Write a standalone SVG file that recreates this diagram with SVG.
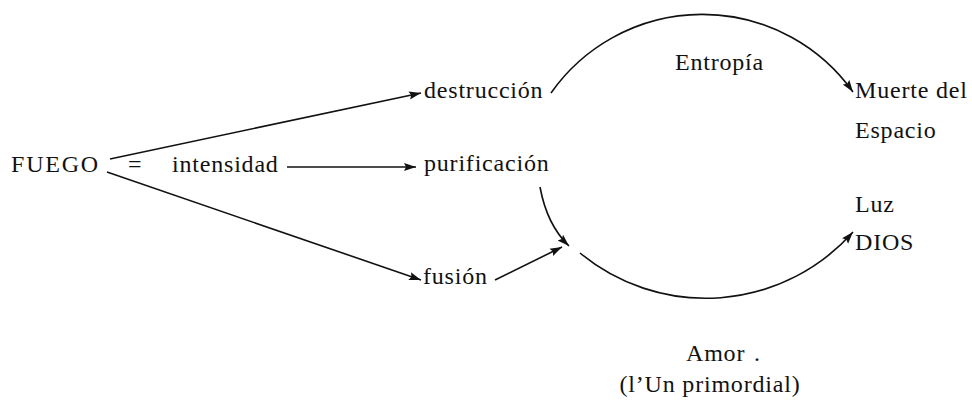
<svg xmlns="http://www.w3.org/2000/svg" width="972" height="405" viewBox="0 0 972 405">
<style>
text{font-family:"Liberation Serif","Times New Roman",serif;font-size:24px;fill:#111;letter-spacing:0.8px}
.c{fill:none;stroke:#111;stroke-width:1.6}
</style>
<defs>
<marker id="ah" markerUnits="userSpaceOnUse" markerWidth="14" markerHeight="10" refX="12" refY="5" orient="auto">
<path d="M0,1 L12,5 L0,9 L2,5 Z" fill="#111"/>
</marker>
</defs>
<rect width="972" height="405" fill="#fff"/>
<g id="connectors">
<path class="c" d="M110,159 L421,93" marker-end="url(#ah)"/>
<path class="c" d="M107,172 L421,280" marker-end="url(#ah)"/>
<path class="c" d="M287,167 L416,167" marker-end="url(#ah)"/>
<path class="c" d="M551,93 A185,185 0 0 1 853,92" marker-end="url(#ah)"/>
<path class="c" d="M540,187 Q547,225 569,246" marker-end="url(#ah)"/>
<path class="c" d="M495,280 L562,247" marker-end="url(#ah)"/>
<path class="c" d="M580,253 A197,197 0 0 0 853,232" marker-end="url(#ah)"/>
</g>
<g id="fuego"><text x="11" y="172" textLength="88">FUEGO</text></g>
<g id="igual"><text x="128" y="172">=</text></g>
<g id="intensidad"><text x="172" y="172">intensidad</text></g>
<g id="destruccion"><text x="424" y="98">destrucción</text></g>
<g id="purificacion"><text x="424" y="171">purificación</text></g>
<g id="fusion"><text x="423" y="284">fusión</text></g>
<g id="entropia"><text x="675" y="70">Entropía</text></g>
<g id="muerte"><text x="855" y="98">Muerte del</text><text x="855" y="138">Espacio</text></g>
<g id="dios"><text x="855" y="212">Luz</text><text x="855" y="250">DIOS</text></g>
<g id="amor"><text x="686" y="361">Amor<tspan dx="10">.</tspan></text><text x="710" y="392" text-anchor="middle">(l’Un primordial)</text></g>
</svg>
